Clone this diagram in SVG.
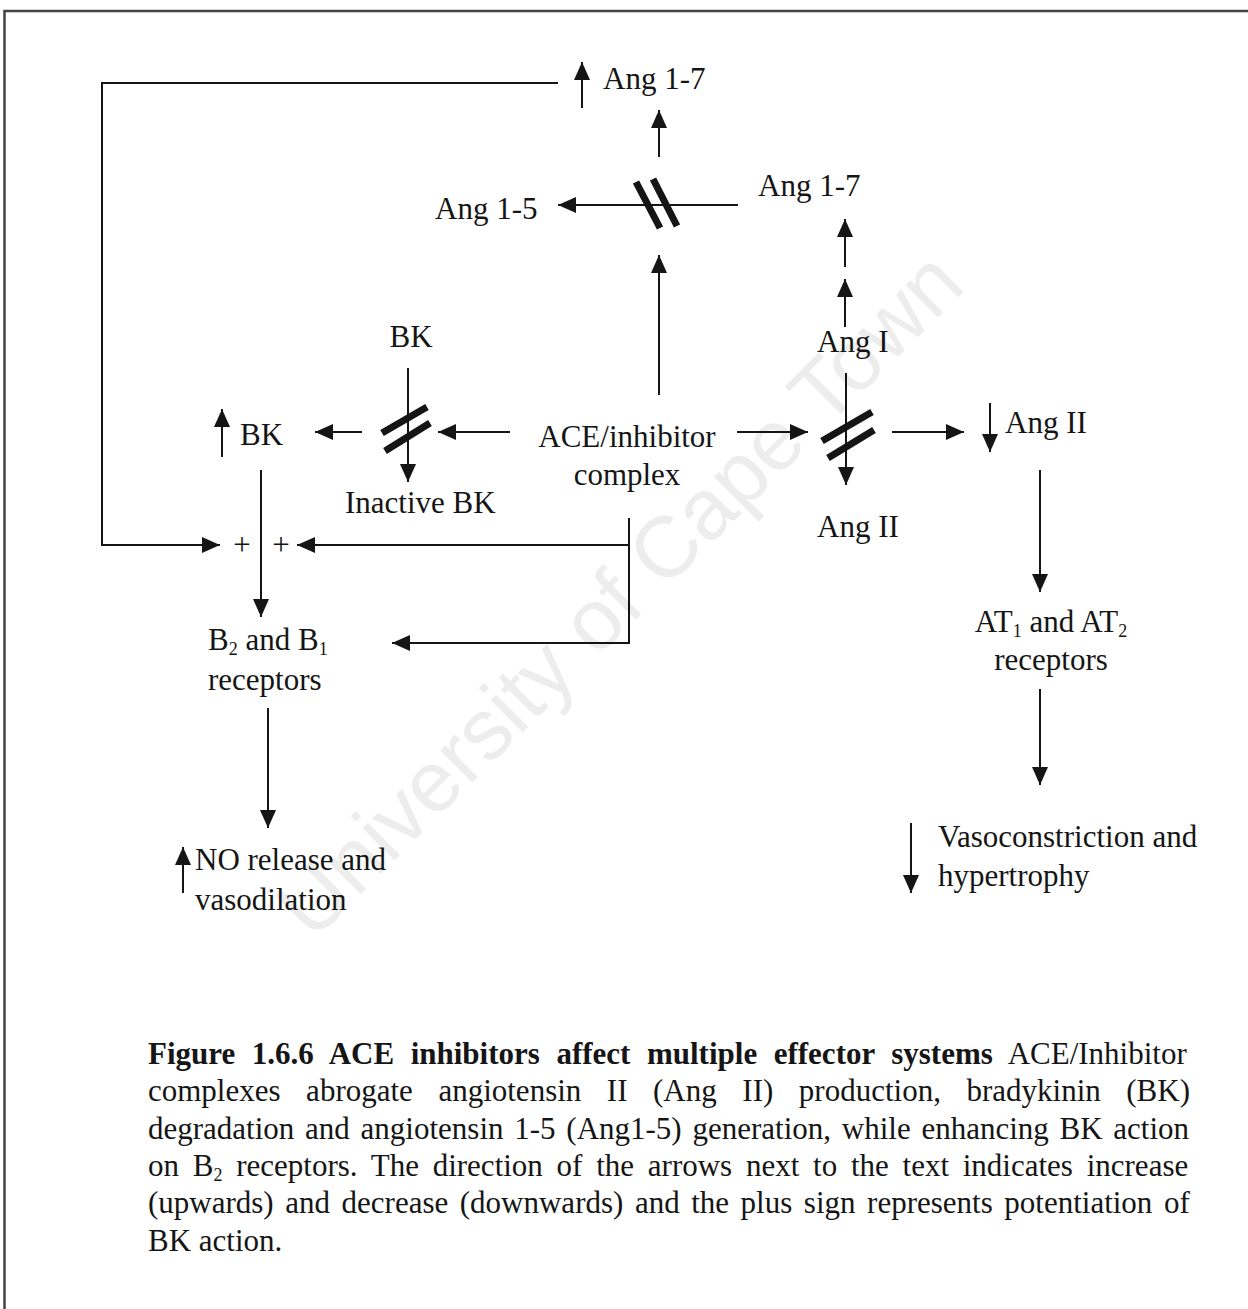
<svg xmlns="http://www.w3.org/2000/svg" width="1248" height="1309" viewBox="0 0 1248 1309">
<style>
.t{font-family:"Liberation Serif","Times New Roman",serif;font-size:31px;fill:#151515}
.sub{font-size:18px}
.cap{font-family:"Liberation Serif","Times New Roman",serif;font-size:31px;fill:#151515}
.b{font-weight:bold}
.ln{stroke:#151515;stroke-width:2;fill:none}
.arr{marker-end:url(#ah)}
.blk{stroke:#151515;stroke-width:7;fill:none}
.wm{font-family:"Liberation Sans",Arial,sans-serif;font-size:86px;fill:#ededed}
</style>
<defs>
<marker id="ah" viewBox="0 0 18 16" refX="18" refY="8" markerWidth="18" markerHeight="16" markerUnits="userSpaceOnUse" orient="auto">
<path d="M0,0 L18,8 L0,16 z" fill="#151515"/>
</marker>
</defs>
<rect width="1248" height="1309" fill="#fff"/>
<text class="wm" x="640" y="615" text-anchor="middle" transform="rotate(-45 640 615)">University of Cape Town</text>
<g id="border"><path d="M4.5,1309 V11 H1248" stroke="#444" stroke-width="2.5" fill="none"/></g>

<g id="connectors">
<path class="ln arr" d="M558,83 H102 V545 H220"/>
<path class="ln arr" d="M659,157 V110"/>
<path class="ln arr" d="M738,205 H558"/>
<path class="ln arr" d="M659,395 V255"/>
<path class="ln arr" d="M845,267 V219"/>
<path class="ln arr" d="M845,327 V279"/>
<path class="ln arr" d="M846,373 V485"/>
<path class="ln arr" d="M737,432 H808"/>
<path class="ln arr" d="M892,432 H964"/>
<path class="ln arr" d="M1040,470 V592"/>
<path class="ln arr" d="M1040,689 V785"/>
<path class="ln arr" d="M408,368 V482"/>
<path class="ln arr" d="M510,432 H438"/>
<path class="ln arr" d="M362,432 H315"/>
<path class="ln arr" d="M261,470 V617"/>
<path class="ln arr" d="M629,518 V643 H392"/>
<path class="ln arr" d="M629,545 H297"/>
<path class="ln arr" d="M268,708 V828"/>
<path class="blk" d="M636,182 L660,228 M653,179 L677,226"/>
<path class="blk" d="M822,441 L872,412 M828,458 L874,430"/>
<path class="blk" d="M382,433 L427,407 M385,451 L430,423"/>
</g>

<g id="n-ang17-top">
<path class="ln arr" d="M582,108 V62"/>
<text class="t" x="603" y="89">Ang 1-7</text>
</g>
<g id="n-ang15"><text class="t" x="435" y="219">Ang 1-5</text></g>
<g id="n-ang17"><text class="t" x="758" y="196">Ang 1-7</text></g>
<g id="n-angI"><text class="t" x="817" y="352">Ang I</text></g>
<g id="n-ace"><text class="t" x="627" y="447" text-anchor="middle">ACE/inhibitor</text><text class="t" x="627" y="485" text-anchor="middle">complex</text></g>
<g id="n-angII"><text class="t" x="817" y="537">Ang II</text></g>
<g id="n-angII-down">
<path class="ln arr" d="M990,403 V452"/>
<text class="t" x="1005" y="433">Ang II</text>
</g>
<g id="n-at"><text class="t" x="1051" y="632" text-anchor="middle">AT<tspan class="sub" dy="5">1</tspan><tspan dy="-5"> and AT</tspan><tspan class="sub" dy="5">2</tspan></text><text class="t" x="1051" y="670" text-anchor="middle">receptors</text></g>
<g id="n-vaso">
<path class="ln arr" d="M911,823 V893"/>
<text class="t" x="938" y="847">Vasoconstriction and</text>
<text class="t" x="938" y="886">hypertrophy</text>
</g>
<g id="n-bk"><text class="t" x="411" y="347" text-anchor="middle">BK</text></g>
<g id="n-bk-up">
<path class="ln arr" d="M222,457 V409"/>
<text class="t" x="240" y="445">BK</text>
</g>
<g id="n-inactive"><text class="t" x="345" y="513">Inactive BK</text></g>
<g id="n-plus"><text class="t" x="242" y="555" text-anchor="middle">+</text><text class="t" x="281" y="555" text-anchor="middle">+</text></g>
<g id="n-b2"><text class="t" x="208" y="650">B<tspan class="sub" dy="5">2</tspan><tspan dy="-5"> and B</tspan><tspan class="sub" dy="5">1</tspan></text><text class="t" x="208" y="690">receptors</text></g>
<g id="n-no">
<path class="ln arr" d="M183,893 V847"/>
<text class="t" x="195" y="870">NO release and</text>
<text class="t" x="195" y="910">vasodilation</text>
</g>

<g id="caption">
<text class="cap" x="148" y="1064" word-spacing="8.8"><tspan class="b">Figure 1.6.6 ACE inhibitors affect multiple effector systems</tspan> ACE/Inhibitor</text>
<text class="cap" x="148" y="1101" word-spacing="17.8">complexes abrogate angiotensin II (Ang II) production, bradykinin (BK)</text>
<text class="cap" x="148" y="1139" word-spacing="3">degradation and angiotensin 1-5 (Ang1-5) generation, while enhancing BK action</text>
<text class="cap" x="148" y="1176" word-spacing="6">on B<tspan class="sub" dy="5">2</tspan><tspan dy="-5"> receptors. The direction of the arrows next to the text indicates increase</tspan></text>
<text class="cap" x="148" y="1213" word-spacing="3.8">(upwards) and decrease (downwards) and the plus sign represents potentiation of</text>
<text class="cap" x="148" y="1251">BK action.</text>
</g>
</svg>
